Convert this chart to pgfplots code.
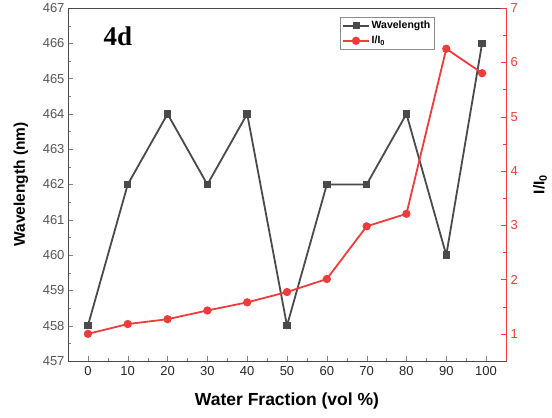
\documentclass[border=0pt]{standalone}
\usepackage{pgfplots}
\pgfplotsset{compat=1.18}
\usepackage{pgfplotstable}
\usepackage{fontspec}
\setmainfont{Liberation Sans}
\newfontfamily\serifface{Liberation Serif}

\definecolor{wlgray}{HTML}{4A4A4A}
\definecolor{ired}{HTML}{EE3B3B}
\definecolor{lblgray}{HTML}{555555}

% emission wavelength vs. water fraction
\pgfplotstableread{
x    wl
0    458
10   462
20   464
30   462
40   464
50   458
60   462
70   462
80   464
90   460
99   466
}\wavelength

% relative intensity I/I0 vs. water fraction
\pgfplotstableread{
x    ratio
0    1.00
10   1.18
20   1.27
30   1.43
40   1.58
50   1.77
60   2.01
70   2.98
80   3.21
90   6.25
99   5.80
}\intensity

\begin{document}
\begin{tikzpicture}
\pgfplotsset{
  common/.style={
    width=438pt, height=353pt, scale only axis,
    xmin=-5, xmax=105,
    tick align=inside,
    major tick length=5pt, minor tick length=3pt,
    /pgf/number format/assume math mode=true,
    tick label style={font=\fontsize{13}{15}\selectfont},
  }
}
\begin{axis}[common, name=main,
  ymin=457, ymax=467,
  xtick={0,10,...,100}, minor x tick num=1,
  ytick={457,458,...,467}, minor y tick num=1,
  xtick pos=bottom, ytick pos=left,
  axis line style={black, line width=0.9pt},
  y axis line style={wlgray},
  yticklabel style={text=lblgray},
  xticklabel style={text=black!85, yshift=-2pt},
  xlabel={Water Fraction (vol \%)},
  ylabel={Wavelength (nm)},
  xlabel style={font=\bfseries\fontsize{17.5}{20}\selectfont,
    at={(axis description cs:0.5,0)}, anchor=center, yshift=-40pt},
  ylabel style={font=\bfseries\fontsize{15.5}{18}\selectfont,
    at={(axis description cs:0,0.5)}, anchor=center, rotate=0, yshift=47pt},
]
\addplot[wlgray, line width=1.8pt, mark=square*, mark size=2.8pt,
  mark options={solid, fill=wlgray}] table[x=x, y=wl] {\wavelength};
\node[font=\serifface\bfseries\fontsize{27}{30}\selectfont]
  at (rel axis cs:0.114,0.92) {4d};
\end{axis}

\begin{axis}[common,
  ymin=0.5, ymax=7,
  ytick={1,2,...,7}, minor y tick num=1,
  axis x line=none,
  axis y line*=right,
  y axis line style={ired, line width=0.9pt},
  ytick style={ired},
  yticklabel style={text=ired, xshift=1pt},
  ylabel={I/I$_{\mathbf 0}$},
  ylabel style={font=\bfseries\fontsize{15.5}{18}\selectfont,
    at={(axis description cs:1,0.5)}, anchor=center, yshift=-34pt},
  legend style={at={(0.621,0.975)}, anchor=north west,
    draw=black!45, line width=0.6pt,
    font=\bfseries\fontsize{10.5}{12}\selectfont,
    row sep=2pt, inner sep=2pt},
  legend cell align=left,
  legend image code/.code={
    \draw[#1, mark repeat=2, mark phase=2] plot coordinates {(0cm,0cm) (0.45cm,0cm) (0.9cm,0cm)};},
]
\addlegendimage{wlgray, line width=1.8pt, mark=square*, mark size=2.6pt, mark options={solid, fill=wlgray}}
\addlegendentry{Wavelength}
\addplot[ired, line width=1.8pt, mark=*, mark size=3.2pt,
  mark options={solid, fill=ired}] table[x=x, y=ratio] {\intensity};
\addlegendentry{I/I$_{\mathbf 0}$}
\end{axis}

\pgfresetboundingbox
\path[use as bounding box] ([shift={(-68pt,-57pt)}]main.south west)
  rectangle ([shift={(484pt,361pt)}]main.south west);
\end{tikzpicture}
\end{document}
